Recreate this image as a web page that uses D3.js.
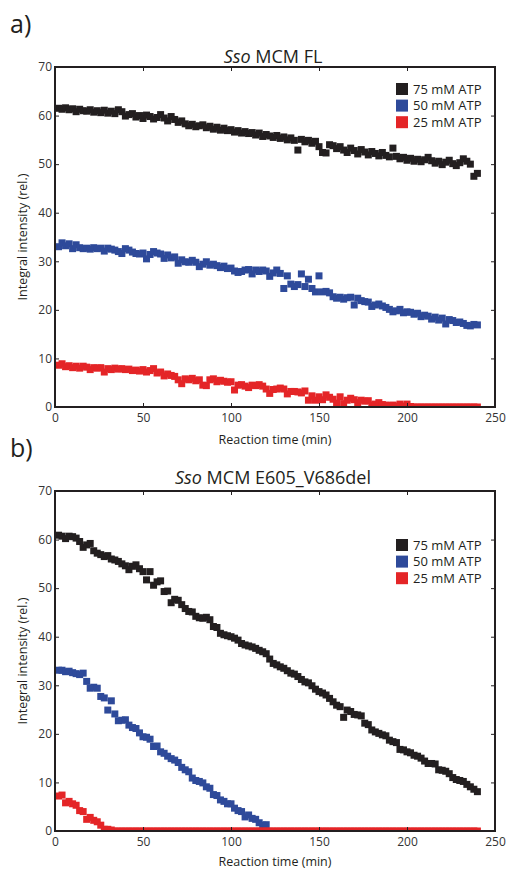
<!DOCTYPE html>
<html><head><meta charset="utf-8">
<script src="https://cdn.jsdelivr.net/npm/d3@7"></script>
<style>body{margin:0;background:#fff} text{font-family:"Open Sans",sans-serif}</style>
</head><body><svg id="c" width="507" height="872"></svg>
<script>
const time = [
2,4,6,8,10,12,14,16,18,20,
22,24,26,28,30,32,34,36,38,40,
42,44,46,48,50,52,54,56,58,60,
62,64,66,68,70,72,74,76,78,80,
82,84,86,88,90,92,94,96,98,100,
102,104,106,108,110,112,114,116,118,120,
122,124,126,128,130,132,134,136,138,140,
142,144,146,148,150,152,154,156,158,160,
162,164,166,168,170,172,174,176,178,180,
182,184,186,188,190,192,194,196,198,200,
202,204,206,208,210,212,214,216,218,220,
222,224,226,228,230,232,234,236,238,240];

const flAtp75 = [
61.5,61.3,61.6,61.2,61.4,60.8,61.3,61.0,60.9,61.2,
60.7,61.0,60.6,61.1,60.5,60.9,60.4,61.2,60.8,59.9,
60.2,60.4,59.7,60.0,59.4,60.1,59.8,59.3,59.6,60.2,
59.5,58.9,59.8,59.2,58.6,58.9,58.3,57.9,58.2,57.7,
57.9,58.1,57.5,57.8,57.2,57.6,57.0,57.4,56.9,57.1,
56.6,56.9,56.4,56.7,56.3,56.5,56.0,56.4,55.7,56.1,
55.8,55.5,55.9,55.3,55.6,55.0,55.4,54.9,52.9,55.1,
54.6,54.9,54.3,54.7,53.6,52.4,52.3,54.0,53.8,53.2,
53.6,52.9,52.4,53.3,52.8,52.1,53.0,52.5,51.9,52.6,
52.2,51.7,52.4,51.8,51.5,53.3,51.6,51.1,51.4,50.8,
51.2,50.6,51.0,50.5,50.9,51.4,50.7,50.2,50.6,49.9,
50.4,50.8,50.1,49.7,50.3,51.1,50.6,50.0,47.5,48.1];

const flAtp50 = [
33.0,33.8,33.2,33.6,32.6,33.4,32.8,32.6,32.7,32.5,
32.8,32.6,32.7,32.1,32.7,32.5,32.3,32.0,31.6,32.6,
32.3,31.9,31.6,31.5,31.7,30.5,31.4,32.0,31.7,31.5,
30.6,31.3,30.7,30.9,29.6,30.3,29.9,29.8,30.2,29.8,
28.9,29.4,29.9,29.2,29.4,29.1,28.7,29.0,28.5,28.6,
28.0,27.7,27.9,28.2,28.3,27.4,28.2,27.9,28.2,28.0,
26.9,27.6,28.2,27.5,24.4,27.0,25.3,24.8,25.2,27.4,
24.8,26.3,24.4,23.7,27.0,23.7,23.8,23.5,22.7,22.4,
22.6,22.2,22.5,22.6,21.0,22.4,21.9,21.7,21.6,20.7,
21.0,21.2,20.8,20.5,20.1,19.6,19.8,20.1,19.4,19.6,
19.5,19.1,19.3,18.6,18.9,18.7,18.1,18.5,17.9,18.3,
17.1,18.0,17.8,17.4,17.5,17.2,16.8,16.7,17.0,16.9];

const flAtp25 = [
8.6,8.9,8.3,8.5,8.1,8.4,8.0,8.4,8.2,7.7,
8.1,8.0,8.1,7.2,7.9,7.7,8.0,7.8,7.9,7.7,
7.8,7.5,7.6,7.4,7.7,7.2,7.5,7.9,7.0,7.2,
6.4,6.8,6.5,6.3,5.6,4.8,5.8,5.6,5.9,5.4,
5.6,4.5,4.4,5.6,5.8,5.2,5.5,5.3,5.1,5.2,
3.5,4.5,4.6,4.3,4.0,4.5,4.4,4.6,4.3,3.7,
2.8,3.6,3.7,3.9,3.7,2.7,3.2,3.2,3.1,2.9,
3.3,1.4,2.3,1.4,2.1,1.5,2.5,2.0,1.6,0.8,
2.1,0.7,1.4,1.8,1.5,0.9,1.4,1.2,1.3,0.4,
0.6,0.9,0.5,0.4,0.3,0.4,0.2,0.6,0.2,0.6,
0.1,0,0,0,0,0,0,0,0,0,
0,0,0,0,0,0,0,0,0,0];

const e605Atp75 = [
60.9,60.7,60.2,60.7,60.6,60.3,59.6,58.4,58.9,59.2,
57.7,57.2,56.9,56.5,56.7,56.0,55.8,55.5,55.0,54.6,
53.8,54.5,54.8,54.0,53.4,51.7,53.4,50.6,51.3,51.5,
49.3,49.4,47.0,47.7,47.5,46.6,45.8,45.2,45.1,44.2,
43.9,43.8,44.0,43.5,42.1,41.9,40.7,40.4,40.2,40.0,
39.7,39.3,38.6,38.3,38.1,37.9,37.6,37.2,36.9,36.5,
35.4,34.5,34.2,33.8,33.5,33.0,32.5,32.3,31.8,31.2,
30.7,30.5,29.9,29.2,28.7,28.4,28.0,27.3,26.6,25.9,
25.6,23.4,24.9,24.6,24.0,23.9,23.7,22.2,21.9,20.8,
20.4,20.1,19.8,19.6,18.7,18.4,18.2,16.8,16.7,16.3,
16.1,15.6,15.4,15.0,14.4,13.9,13.9,13.8,12.6,12.5,
12.3,11.8,11.0,10.6,10.4,10.2,9.6,9.1,8.6,8.1];

const e605Atp50 = [
33.1,33.1,32.8,32.9,32.6,32.4,32.2,32.5,30.8,29.4,
29.6,29.4,27.7,27.4,24.9,26.8,24.1,22.7,22.8,22.9,
21.8,21.3,21.1,20.2,19.4,19.3,18.9,17.4,17.5,16.3,
16.0,15.4,14.9,14.6,14.1,13.1,12.6,12.2,10.9,10.4,
10.2,9.9,9.1,8.8,7.5,7.3,6.4,6.1,5.6,5.6,
4.7,4.2,4.0,2.9,3.3,2.6,2.4,1.7,1.2,1.3];

const e605Atp25 = [
7.2,7.4,5.8,6.1,5.6,5.3,4.2,4.0,2.4,2.8,
2.2,1.9,1.2,0.35,0.35,0.2,0,0,0,0,
0,0,0,0,0,0,0,0,0,0,
0,0,0,0,0,0,0,0,0,0,
0,0,0,0,0,0,0,0,0,0,
0,0,0,0,0,0,0,0,0,0,
0,0,0,0,0,0,0,0,0,0,
0,0,0,0,0,0,0,0,0,0,
0,0,0,0,0,0,0,0,0,0,
0,0,0,0,0,0,0,0,0,0,
0,0,0,0,0,0,0,0,0,0,
0,0,0,0,0,0,0,0,0,0];

const seriesNames = ["75 mM ATP", "50 mM ATP", "25 mM ATP"];
const xTicks = [0, 50, 100, 150, 200, 250];
const yTicks = [0, 10, 20, 30, 40, 50, 60, 70];
const panelLetters = ["a)", "b)"];
const titleItalic = ["Sso", "Sso"];
const titleRest = [" MCM FL", " MCM E605_V686del"];
const xTitle = "Reaction time (min)";
const yTitle = "Integral intensity (rel.)";

const colors = ["#231f20", "#2e4a9a", "#e42527"];
const ink = "#231f20";
const svg = d3.select("#c");

function panel(idx, top, bottom, seriesVals, legendTop, titleY, letterY, xLabY) {
  const L = 55, R = 495;
  const x = d3.scaleLinear().domain([0, 250]).range([L, R]);
  const y = d3.scaleLinear().domain([0, 70]).range([bottom, top]);
  const clipId = "clip" + idx;
  svg.append("clipPath").attr("id", clipId).append("rect")
    .attr("x", L).attr("y", top).attr("width", R - L).attr("height", bottom - top);
  const gm = svg.append("g").attr("clip-path", `url(#${clipId})`);
  const s = 7;
  seriesVals.forEach((vals, i) => {
    gm.append("g").selectAll("rect").data(vals.map((v, j) => [time[j], v])).enter().append("rect")
      .attr("x", d => x(d[0]) - s / 2).attr("y", d => y(d[1]) - s / 2)
      .attr("width", s).attr("height", s).attr("fill", colors[i]);
  });
  const styleAxis = g => {
    g.select(".domain").remove();
    g.selectAll(".tick line").attr("stroke", ink).attr("stroke-width", 1);
    g.selectAll(".tick text").attr("fill", "#333").style("font-size", "12px").style("font-family", "'Open Sans',sans-serif");
  };
  svg.append("g").attr("transform", `translate(0,${bottom})`)
    .call(d3.axisBottom(x).tickValues(xTicks).tickSizeInner(-4).tickSizeOuter(0).tickPadding(6).tickFormat(d3.format("d")))
    .call(styleAxis);
  svg.append("g").attr("transform", `translate(0,${top})`)
    .call(d3.axisTop(x).tickValues(xTicks).tickSizeInner(-4).tickSizeOuter(0).tickFormat(""))
    .call(styleAxis);
  svg.append("g").attr("transform", `translate(${L},0)`)
    .call(d3.axisLeft(y).tickValues(yTicks).tickSizeInner(-4).tickSizeOuter(0).tickPadding(3).tickFormat(d3.format("d")))
    .call(styleAxis);
  svg.append("g").attr("transform", `translate(${R},0)`)
    .call(d3.axisRight(y).tickValues(yTicks).tickSizeInner(-4).tickSizeOuter(0).tickFormat(""))
    .call(styleAxis);
  svg.append("rect").attr("x", L).attr("y", top).attr("width", R - L).attr("height", bottom - top)
    .attr("fill", "none").attr("stroke", ink).attr("stroke-width", 2);

  const t = svg.append("text").attr("x", (L + R) / 2 - 2).attr("y", titleY).attr("text-anchor", "middle")
    .attr("fill", ink).style("font-size", "18px");
  t.append("tspan").style("font-style", "italic").text(titleItalic[idx]);
  t.append("tspan").text(titleRest[idx]);
  svg.append("text").attr("x", 10).attr("y", letterY).attr("fill", ink).style("font-size", "25px").text(panelLetters[idx]);
  svg.append("text").attr("x", (L + R) / 2).attr("y", xLabY).attr("text-anchor", "middle")
    .attr("fill", ink).style("font-size", "12.5px").text(xTitle);
  svg.append("text").attr("transform", `translate(27,${(top + bottom) / 2}) rotate(-90)`).attr("text-anchor", "middle")
    .attr("fill", ink).style("font-size", "12.5px").text(yTitle);
  seriesNames.forEach((n, i) => {
    const cy = legendTop + i * 16.6;
    svg.append("rect").attr("x", 396).attr("y", cy).attr("width", 12).attr("height", 12).attr("fill", colors[i]);
    svg.append("text").attr("x", 413).attr("y", cy + 10.5).attr("fill", ink).style("font-size", "13px").text(n);
  });
}

panel(0, 67, 407, [flAtp75, flAtp50, flAtp25], 83, 63, 33, 444);
panel(1, 491, 831, [e605Atp75, e605Atp50, e605Atp25], 539, 484, 457, 866);
</script></body></html>
